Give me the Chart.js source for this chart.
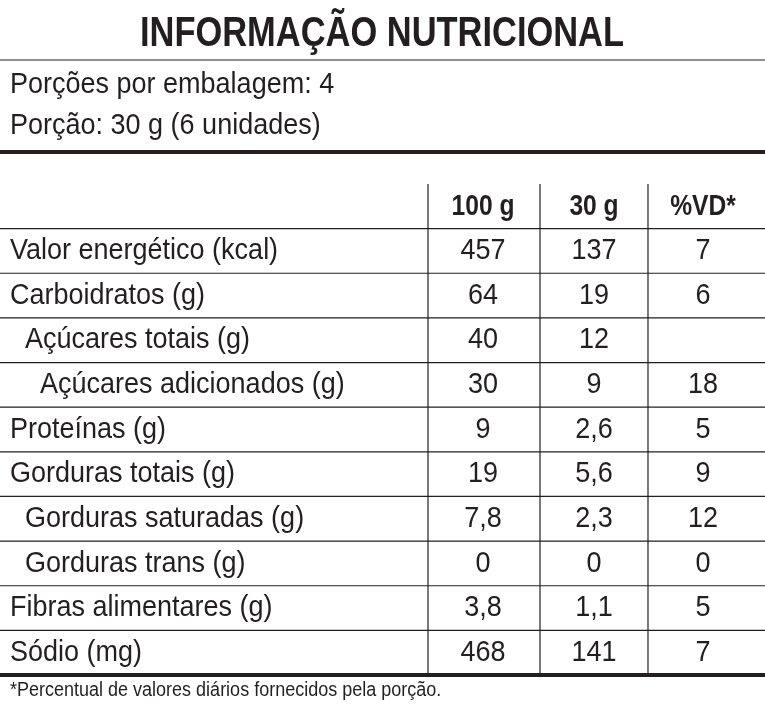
<!DOCTYPE html>
<html>
<head>
<meta charset="utf-8">
<script src="https://cdn.jsdelivr.net/npm/chart.js@4/dist/chart.umd.min.js"></script>
<style>
  body { margin: 0; background: #fff; }
</style>
</head>
<body>
<canvas id="tabela" width="765" height="710"></canvas>
<script>
const title = "INFORMAÇÃO NUTRICIONAL";
const servingLines = ["Porções por embalagem: 4", "Porção: 30 g (6 unidades)"];
const columns = ["100 g", "30 g", "%VD*"];
const nutrients = ["Valor energético (kcal)", "Carboidratos (g)", "Açúcares totais (g)", "Açúcares adicionados (g)",
  "Proteínas (g)", "Gorduras totais (g)", "Gorduras saturadas (g)", "Gorduras trans (g)",
  "Fibras alimentares (g)", "Sódio (mg)"];
const indent = [0, 0, 1, 2, 0, 0, 1, 1, 0, 0];
const per100g = ["457", "64", "40", "30", "9", "19", "7,8", "0", "3,8", "468"];
const per30g = ["137", "19", "12", "9", "2,6", "5,6", "2,3", "0", "1,1", "141"];
const vd = ["7", "6", "", "18", "5", "9", "12", "0", "5", "7"];
const footnote = "*Percentual de valores diários fornecidos pela porção.";

const rowLabels = ["header"].concat(nutrients);
const colX = [483, 594, 703];
const colLines = [428, 540, 648];
const font = "'Liberation Sans', Arial, sans-serif";

// draw text squeezed horizontally to mimic a condensed face
function narrowText(c, text, x, y, sx) {
  c.save();
  c.translate(x, y);
  c.scale(sx, 1);
  c.fillText(text, 0, 0);
  c.restore();
}

const tablePlugin = {
  id: 'tablePlugin',
  beforeDraw(chart) {
    const c = chart.ctx;
    c.save();
    c.fillStyle = '#fff';
    c.fillRect(0, 0, chart.width, chart.height);
    c.restore();
  },
  afterDraw(chart) {
    const c = chart.ctx;
    const y = chart.scales.y;
    const half = (y.getPixelForValue(1) - y.getPixelForValue(0)) / 2;
    const sx = 0.9;
    c.save();
    c.fillStyle = '#231f20';
    c.strokeStyle = '#231f20';
    c.textBaseline = 'middle';

    c.textAlign = 'center';
    c.font = "bold 42px " + font;
    narrowText(c, title, 382, 34, 0.82);
    c.textAlign = 'left';
    c.font = "30px " + font;
    narrowText(c, servingLines[0], 10, 85, sx);
    narrowText(c, servingLines[1], 10, 126, sx);

    c.lineWidth = 1.2;
    c.beginPath(); c.moveTo(0, 60); c.lineTo(765, 60); c.stroke();
    c.lineWidth = 4;
    c.beginPath(); c.moveTo(0, 152); c.lineTo(765, 152); c.stroke();

    c.textAlign = 'center';
    c.font = "bold 30px " + font;
    columns.forEach((t, i) => narrowText(c, t, colX[i], y.getPixelForValue(0), 0.82));

    nutrients.forEach((name, i) => {
      const py = y.getPixelForValue(i + 1);
      c.font = "30px " + font;
      c.textAlign = 'left';
      narrowText(c, name, 10 + indent[i] * 15, py, sx);
      c.textAlign = 'center';
      narrowText(c, per100g[i], colX[0], py, sx);
      narrowText(c, per30g[i], colX[1], py, sx);
      narrowText(c, vd[i], colX[2], py, sx);
      c.lineWidth = 1.2;
      c.beginPath(); c.moveTo(0, py - half); c.lineTo(765, py - half); c.stroke();
    });

    const top = y.getPixelForValue(0) - half;
    const bottom = y.getPixelForValue(nutrients.length) + half;
    c.lineWidth = 1.2;
    colLines.forEach(x => {
      c.beginPath(); c.moveTo(x, top); c.lineTo(x, bottom); c.stroke();
    });
    c.lineWidth = 4;
    c.beginPath(); c.moveTo(0, bottom); c.lineTo(765, bottom); c.stroke();

    c.textAlign = 'left';
    c.font = "20px " + font;
    narrowText(c, footnote, 10, bottom + 15, 0.9);
    c.restore();
  }
};

new Chart(document.getElementById('tabela'), {
  type: 'bar',
  data: {
    labels: rowLabels,
    datasets: [{ data: rowLabels.map(() => null) }]
  },
  options: {
    responsive: false,
    animation: false,
    indexAxis: 'y',
    layout: { padding: { top: 184, bottom: 35, left: 0, right: 0 } },
    plugins: { legend: { display: false }, tooltip: { enabled: false } },
    scales: {
      x: { display: false, min: 0, max: 1 },
      y: { display: false }
    }
  },
  plugins: [tablePlugin]
});
</script>
</body>
</html>
